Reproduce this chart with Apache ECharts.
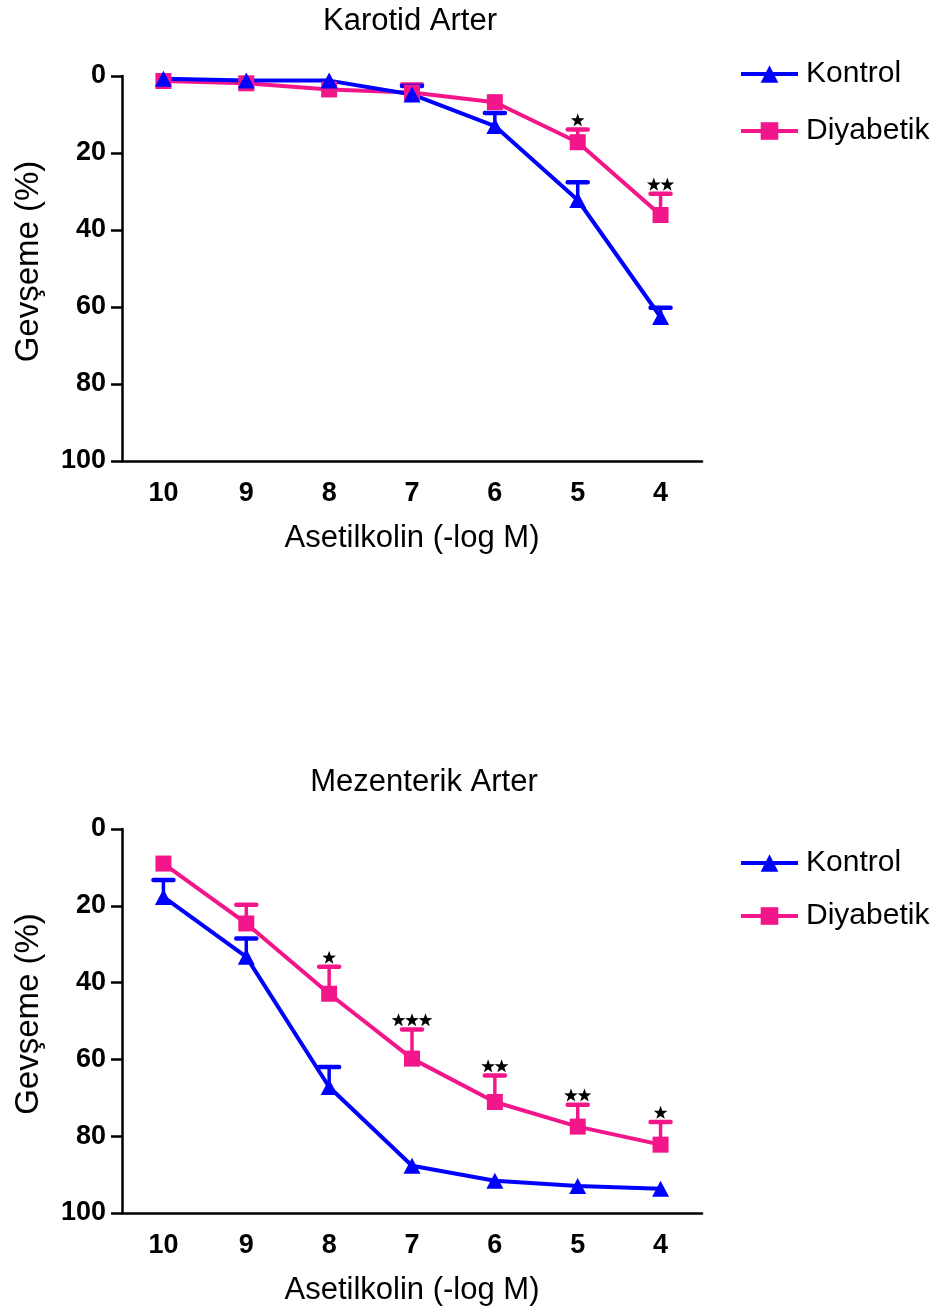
<!DOCTYPE html>
<html><head><meta charset="utf-8">
<script src="https://cdn.jsdelivr.net/npm/echarts@6/dist/echarts.min.js"></script>
<style>html,body{margin:0;padding:0;background:#fff}#c{width:942px;height:1315px}</style>
</head><body><div id="c"></div>
<script>
const categories = ['10','9','8','7','6','5','4'];
const yTicks = [0,20,40,60,80,100];
const karotidKontrol = [0.7,1.2,1.2,4.8,13,32.2,62.6];
const karotidKontrolErr = [0,0,0,2.2,3.4,4.6,2.4];
const karotidDiyabetik = [1.3,1.9,3.5,4.3,6.8,17.2,36.1];
const karotidDiyabetikErr = [0,0,0,2.1,0,3.3,5.5];
const karotidStars = [0,0,0,0,0,1,2];
const mezKontrol = [17.7,33.3,67.2,87.7,91.6,93,93.7];
const mezKontrolErr = [4.4,4.8,5.2,0,0,0,0];
const mezDiyabetik = [9,24.6,42.9,59.8,71.1,77.5,82.2];
const mezDiyabetikErr = [0,4.9,7,7.6,6.9,5.7,5.9];
const mezStars = [0,0,1,3,2,2,1];

const BLUE = '#0000FF', PINK = '#F3168A';
const FONT = 'Liberation Sans, Arial, sans-serif';

function errRender(color){
  return function(params, api){
    const i = api.value(0), v = api.value(1), e = api.value(2);
    if(!e) return null;
    const p1 = api.coord([i, v]);
    const p2 = api.coord([i, v - e]);
    const hw = 10;
    return {type:'group', children:[
      {type:'line', shape:{x1:p1[0],y1:p1[1],x2:p2[0],y2:p2[1]}, style:{stroke:color, lineWidth:3.5}},
      {type:'line', shape:{x1:p2[0]-hw,y1:p2[1],x2:p2[0]+hw,y2:p2[1]}, style:{stroke:color, lineWidth:4.5, lineCap:'round'}}
    ]};
  };
}
// five-point star outline (shape template, centred on 0,0)
function starPoints(cx, cy, R, r){
  const pts = [];
  for(let k=0;k<10;k++){
    const a = -Math.PI/2 + k*Math.PI/5;
    const rad = (k%2===0)?R:r;
    pts.push([cx + rad*Math.cos(a), cy + rad*Math.sin(a)]);
  }
  return pts;
}
function starRender(stars){
  return function(params, api){
    const n = stars[params.dataIndex];
    if(!n) return null;
    const p = api.coord([api.value(0), api.value(1)]);
    const step = 13.5, children = [];
    for(let k=0;k<n;k++){
      const cx = p[0] + (k-(n-1)/2)*step;
      children.push({type:'polygon', shape:{points:starPoints(cx, p[1]-9, 7.2, 2.9)}, style:{fill:'#000'}});
    }
    return {type:'group', children:children};
  };
}
function errData(vals, errs){ return categories.map((c,i)=>[c, vals[i], errs[i]]); }
function starData(vals, errs){ return categories.map((c,i)=>[c, vals[i]-errs[i]]); }

function xAxis(gi){
  return {type:'category', gridIndex:gi, data:categories, boundaryGap:true, position:'bottom',
    name:'Asetilkolin (-log M)', nameLocation:'middle', nameGap:62,
    nameTextStyle:{fontFamily:FONT, fontSize:31, color:'#000'},
    axisLine:{onZero:false, lineStyle:{color:'#000', width:2.5}},
    axisTick:{alignWithLabel:true, length:11, lineStyle:{color:'#000', width:2.5}},
    axisLabel:{fontFamily:FONT, fontWeight:'bold', fontSize:27, color:'#000', margin:19},
    splitLine:{show:false}};
}
function yAxis(gi){
  return {type:'value', gridIndex:gi, inverse:true, min:yTicks[0], max:yTicks[yTicks.length-1], interval:yTicks[1]-yTicks[0],
    name:'Gevşeme (%)', nameLocation:'middle', nameGap:77, nameRotate:90,
    nameTextStyle:{fontFamily:FONT, fontSize:33, color:'#000', padding:[0,0,0,14]},
    axisLine:{show:true, onZero:false, lineStyle:{color:'#000', width:2.5}},
    axisTick:{show:true, length:11, lineStyle:{color:'#000', width:2.5}},
    axisLabel:{fontFamily:FONT, fontWeight:'bold', fontSize:27, color:'#000', margin:16},
    splitLine:{show:false}};
}
function lineSeries(name, gi, vals, color, symbol, size){
  return {type:'line', name:name, xAxisIndex:gi, yAxisIndex:gi, data:vals, z:3,
    symbol:symbol, symbolSize:size, showAllSymbol:true,
    lineStyle:{color:color, width:4}, itemStyle:{color:color}, emphasis:{disabled:true}};
}
function errSeries(gi, vals, errs, color){
  return {type:'custom', xAxisIndex:gi, yAxisIndex:gi, data:errData(vals, errs), renderItem:errRender(color), z:2, silent:true};
}
function starSeries(gi, vals, errs, stars){
  return {type:'custom', xAxisIndex:gi, yAxisIndex:gi, data:starData(vals, errs), renderItem:starRender(stars), z:4, silent:true};
}
function legend(top, gap){
  return {data:['Kontrol','Diyabetik'], orient:'vertical', left:739, top:top, itemGap:gap, padding:0,
    itemWidth:57, itemHeight:22, selectedMode:false,
    lineStyle:{width:4},
    textStyle:{fontFamily:FONT, fontSize:30, color:'#000', padding:[0,0,0,3]}};
}

const chart = echarts.init(document.getElementById('c'), null, {renderer:'canvas'});
chart.setOption({
  animation:false,
  backgroundColor:'#fff',
  title:[
    {text:'Karotid Arter', left:410, top:6, textAlign:'center', padding:0, textStyle:{fontFamily:FONT, fontSize:31, fontWeight:'normal', color:'#000'}},
    {text:'Mezenterik Arter', left:424, top:767, textAlign:'center', padding:0, textStyle:{fontFamily:FONT, fontSize:31, fontWeight:'normal', color:'#000'}}
  ],
  legend:[legend(59, 27), legend(848, 23)],
  grid:[
    {left:122, top:76, width:580, height:385, outerBoundsMode:'none', containLabel:false},
    {left:122, top:829, width:580, height:384, outerBoundsMode:'none', containLabel:false}
  ],
  xAxis:[xAxis(0), xAxis(1)],
  yAxis:[yAxis(0), yAxis(1)],
  series:[
    errSeries(0, karotidDiyabetik, karotidDiyabetikErr, PINK),
    errSeries(0, karotidKontrol, karotidKontrolErr, BLUE),
    lineSeries('Diyabetik', 0, karotidDiyabetik, PINK, 'rect', 16),
    lineSeries('Kontrol', 0, karotidKontrol, BLUE, 'triangle', [17,16]),
    starSeries(0, karotidDiyabetik, karotidDiyabetikErr, karotidStars),
    errSeries(1, mezDiyabetik, mezDiyabetikErr, PINK),
    errSeries(1, mezKontrol, mezKontrolErr, BLUE),
    lineSeries('Diyabetik', 1, mezDiyabetik, PINK, 'rect', 16),
    lineSeries('Kontrol', 1, mezKontrol, BLUE, 'triangle', [17,16]),
    starSeries(1, mezDiyabetik, mezDiyabetikErr, mezStars)
  ]
});
</script></body></html>
